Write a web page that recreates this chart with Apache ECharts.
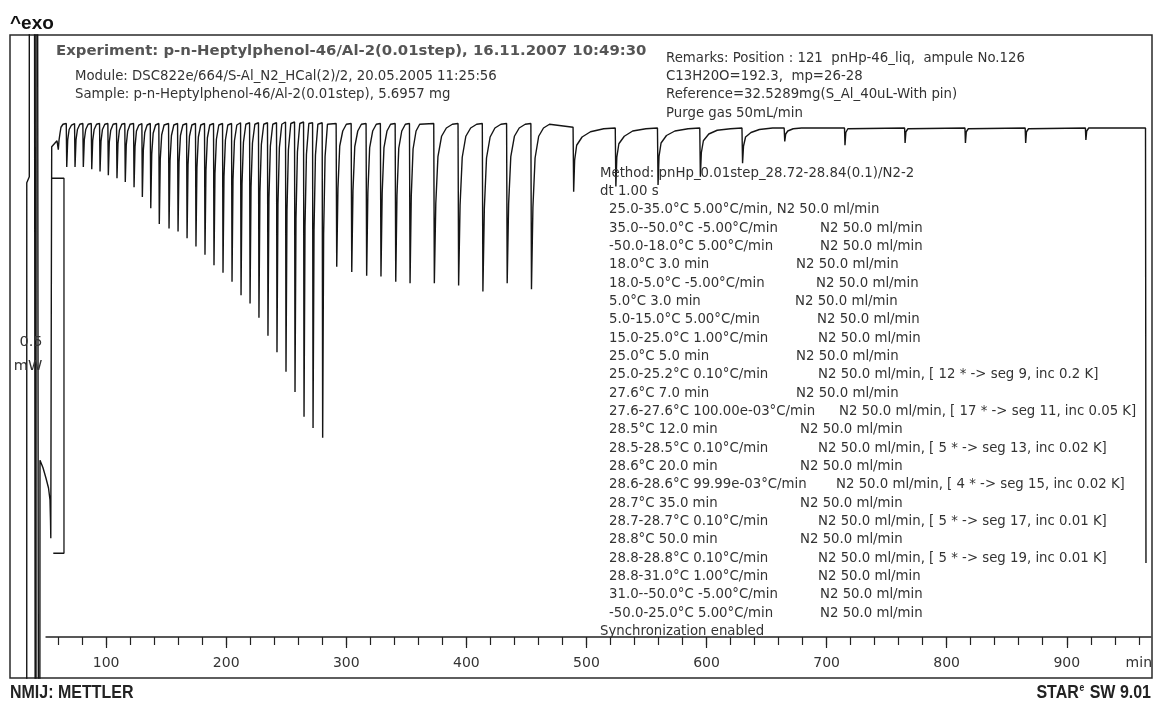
<!DOCTYPE html>
<html><head><meta charset="utf-8">
<script src="https://cdn.jsdelivr.net/npm/echarts@6.0.0/dist/echarts.min.js"></script>
<style>html,body{margin:0;padding:0;background:#fff}#chart{width:1155px;height:704px}</style>
</head><body><div id="chart"></div>
<script>
// ---------- DATA (time in min, heat flow in mW, relative) ----------
const initialTrace = [
  [33.9,-2.0],[33.95,-0.077],[36.05,-0.069],[36.1,2.0],
  [39.4,2.0],[41.6,-2.0],[41.8,2.0],[44.4,-2.0],
  [44.96,-0.447],[47.45,-0.457],[49.95,-0.471],[52.03,-0.484],[53.28,-0.500],[53.69,-0.527],[53.94,-0.551],
  [54.36,-0.233],[54.69,-0.029],[57.44,-0.024],[59.1,-0.021],[60.18,-0.033],[60.8,-0.020],[61.6,-0.011],[62.4,-0.003],[64.1,0.001]
];
const hold25Steps = [
  [66.8,0.002],[67.2,-0.056],[68.0,-0.020],[69.2,-0.006],[71.2,0.000],
  [73.7,0.002],[74.1,-0.056],[74.9,-0.020],[76.1,-0.006],[78.1,0.001],
  [80.6,0.002],[81.0,-0.056],[81.8,-0.020],[83.0,-0.006],[85.0,0.001],
  [87.6,0.002],[88.0,-0.059],[88.8,-0.021],[90.0,-0.006],[92.0,0.001],
  [94.5,0.002],[94.9,-0.062],[95.7,-0.022],[96.9,-0.006],[98.9,0.001],
  [101.4,0.002],[101.8,-0.067],[102.6,-0.023],[103.8,-0.007],[105.8,0.001],
  [108.6,0.002],[109.0,-0.071],[109.8,-0.025],[111.0,-0.007],[113.0,0.001],
  [115.5,0.002],[115.9,-0.076],[116.7,-0.027],[117.9,-0.008],[119.9,0.001],
  [122.8,0.002],[123.2,-0.083],[124.0,-0.029],[125.2,-0.008],[127.2,0.000],
  [129.7,0.002],[130.1,-0.096],[130.9,-0.034],[132.1,-0.010],[134.1,0.000],
  [136.7,0.002],[137.1,-0.111],[137.9,-0.039],[139.1,-0.011],[141.1,0.000],
  [143.8,0.002],[144.2,-0.132],[145.0,-0.046],[146.2,-0.013],[148.2,0.000]
];
const hold276Steps = [
  [151.9,0.002],[152.3,-0.138],[153.1,-0.048],[154.3,-0.014],[156.3,0.000],
  [159.4,0.002],[159.8,-0.142],[160.6,-0.050],[161.8,-0.014],[163.8,0.000],
  [166.9,0.002],[167.3,-0.151],[168.1,-0.053],[169.3,-0.015],[171.3,0.000],
  [174.3,0.002],[174.7,-0.162],[175.5,-0.057],[176.7,-0.016],[178.7,0.000],
  [181.8,0.002],[182.2,-0.173],[183.0,-0.061],[184.2,-0.017],[186.2,0.000],
  [189.3,0.002],[189.7,-0.187],[190.5,-0.065],[191.7,-0.019],[193.7,0.000],
  [196.8,0.002],[197.2,-0.197],[198.0,-0.069],[199.2,-0.020],[201.2,0.000],
  [204.3,0.002],[204.7,-0.209],[205.5,-0.073],[206.7,-0.021],[208.7,0.000],
  [211.8,0.003],[212.2,-0.227],[213.0,-0.079],[214.2,-0.023],[216.2,0.001],
  [219.3,0.003],[219.7,-0.238],[220.5,-0.083],[221.7,-0.024],[223.7,0.001],
  [226.7,0.003],[227.1,-0.257],[227.9,-0.090],[229.1,-0.026],[231.1,0.001],
  [234.2,0.003],[234.6,-0.281],[235.4,-0.098],[236.6,-0.028],[238.6,0.001],
  [241.7,0.003],[242.1,-0.303],[242.9,-0.106],[244.1,-0.030],[246.1,0.001],
  [249.2,0.004],[249.6,-0.329],[250.4,-0.115],[251.6,-0.033],[253.6,0.002],
  [256.7,0.004],[257.1,-0.356],[257.9,-0.125],[259.1,-0.036],[261.1,0.002],
  [264.2,0.004],[264.6,-0.389],[265.4,-0.136],[266.6,-0.039],[268.6,0.002],
  [271.7,0.003],[272.1,-0.404],[272.9,-0.141],[274.1,-0.040],[276.1,0.001],
  [279.7,0.003],[280.1,-0.417],[280.9,-0.146],[282.1,-0.042],[284.1,0.001]
];
const hold285Steps = [
  [291.3,0.002],[291.8,-0.189],[292.8,-0.085],[294.3,-0.028],[296.8,-0.008],[299.8,0.001],
  [303.8,0.002],[304.3,-0.196],[305.3,-0.088],[306.8,-0.029],[309.3,-0.008],[312.3,0.001],
  [316.2,0.002],[316.7,-0.201],[317.7,-0.090],[319.2,-0.030],[321.7,-0.008],[324.7,0.001],
  [328.1,0.002],[328.6,-0.202],[329.6,-0.091],[331.1,-0.030],[333.6,-0.008],[336.6,0.001],
  [340.4,0.002],[340.9,-0.209],[341.9,-0.094],[343.4,-0.031],[345.9,-0.008],[348.9,0.001],
  [352.3,0.002],[352.8,-0.211],[353.8,-0.095],[355.3,-0.032],[357.8,-0.008],[360.8,0.001]
];
const hold286Steps = [
  [372.5,0.002],[373.0,-0.211],[374.2,-0.105],[376.0,-0.042],[379.0,-0.015],[383.0,-0.004],[388.0,0.001],
  [392.7,0.002],[393.2,-0.214],[394.4,-0.107],[396.2,-0.043],[399.2,-0.015],[403.2,-0.004],[408.2,0.001],
  [412.9,0.002],[413.4,-0.222],[414.6,-0.111],[416.4,-0.044],[419.4,-0.016],[423.4,-0.004],[428.4,0.001],
  [433.1,0.002],[433.6,-0.211],[434.8,-0.105],[436.6,-0.042],[439.6,-0.015],[443.6,-0.004],[448.6,0.001],
  [453.3,0.002],[453.8,-0.219],[455.0,-0.110],[456.8,-0.044],[459.8,-0.015],[463.8,-0.004],[468.8,0.001]
];
const hold287Steps = [
  [488.4,-0.003],[488.9,-0.089],[489.7,-0.047],[491.4,-0.027],[495.9,-0.016],[502.9,-0.009],[513.9,-0.005],
  [523.5,-0.004],[524.0,-0.082],[524.8,-0.043],[526.5,-0.025],[531.0,-0.015],[538.0,-0.008],[549.0,-0.005],
  [558.6,-0.004],[559.1,-0.080],[559.9,-0.042],[561.6,-0.024],[566.1,-0.014],[573.1,-0.008],[584.1,-0.005],
  [593.8,-0.004],[594.3,-0.069],[595.1,-0.037],[596.8,-0.021],[601.3,-0.012],[608.3,-0.007],[619.3,-0.005],
  [628.9,-0.004],[629.4,-0.051],[630.2,-0.028],[631.9,-0.016],[636.4,-0.010],[643.4,-0.006],[654.4,-0.004],
  [664.0,-0.004],[664.5,-0.022],[665.3,-0.012],[667.0,-0.008],[671.5,-0.005],[678.5,-0.004],[689.5,-0.004]
];
const hold288Steps = [
  [714.2,-0.004],[714.6,-0.027],[715.3,-0.010],[717.0,-0.005],
  [764.2,-0.004],[764.6,-0.024],[765.3,-0.009],[767.0,-0.005],
  [814.4,-0.004],[814.8,-0.024],[815.5,-0.009],[817.2,-0.005],
  [864.5,-0.004],[864.9,-0.024],[865.6,-0.009],[867.3,-0.005],
  [914.6,-0.004],[915.0,-0.020],[915.7,-0.008],[917.4,-0.004]
];
const finalMelt = [[962.0,-0.004],[964.6,-0.004],[965.0,-0.584]];

const scaleBarTime = [54.9, 64.9, 64.9, 56.0];
const scaleBarMw = [-0.071, -0.071, -0.571, -0.571];
const scaleBarText = ['0.5', 'mW'];

const tickMinutes = [60,80,100,120,140,160,180,200,220,240,260,280,300,320,340,360,380,400,420,440,460,480,500,520,540,560,580,600,620,640,660,680,700,720,740,760,780,800,820,840,860,880,900,920,940,960];
const labelMinutes = [100,200,300,400,500,600,700,800,900];
const unitLabel = 'min';

const experimentTitle = 'Experiment: p-n-Heptylphenol-46/Al-2(0.01step), 16.11.2007 10:49:30';
const infoLines = ['Module: DSC822e/664/S-Al_N2_HCal(2)/2, 20.05.2005 11:25:56', 'Sample: p-n-Heptylphenol-46/Al-2(0.01step), 5.6957 mg'];
const remarkLines = ['Remarks: Position : 121  pnHp-46_liq,  ampule No.126', 'C13H20O=192.3,  mp=26-28', 'Reference=32.5289mg(S_Al_40uL-With pin)', 'Purge gas 50mL/min'];
const methodHead = ['Method: pnHp_0.01step_28.72-28.84(0.1)/N2-2', 'dt 1.00 s'];
const methodSteps = [
  '25.0-35.0°C 5.00°C/min, N2 50.0 ml/min',
  '35.0--50.0°C -5.00°C/min','-50.0-18.0°C 5.00°C/min','18.0°C 3.0 min','18.0-5.0°C -5.00°C/min',
  '5.0°C 3.0 min','5.0-15.0°C 5.00°C/min','15.0-25.0°C 1.00°C/min','25.0°C 5.0 min',
  '25.0-25.2°C 0.10°C/min','27.6°C 7.0 min','27.6-27.6°C 100.00e-03°C/min','28.5°C 12.0 min',
  '28.5-28.5°C 0.10°C/min','28.6°C 20.0 min','28.6-28.6°C 99.99e-03°C/min','28.7°C 35.0 min',
  '28.7-28.7°C 0.10°C/min','28.8°C 50.0 min','28.8-28.8°C 0.10°C/min','28.8-31.0°C 1.00°C/min',
  '31.0--50.0°C -5.00°C/min','-50.0-25.0°C 5.00°C/min'
];
const methodGas = [
  '',
  'N2 50.0 ml/min','N2 50.0 ml/min','N2 50.0 ml/min','N2 50.0 ml/min',
  'N2 50.0 ml/min','N2 50.0 ml/min','N2 50.0 ml/min','N2 50.0 ml/min',
  'N2 50.0 ml/min, [ 12 * -> seg 9, inc 0.2 K]','N2 50.0 ml/min','N2 50.0 ml/min, [ 17 * -> seg 11, inc 0.05 K]','N2 50.0 ml/min',
  'N2 50.0 ml/min, [ 5 * -> seg 13, inc 0.02 K]','N2 50.0 ml/min','N2 50.0 ml/min, [ 4 * -> seg 15, inc 0.02 K]','N2 50.0 ml/min',
  'N2 50.0 ml/min, [ 5 * -> seg 17, inc 0.01 K]','N2 50.0 ml/min','N2 50.0 ml/min, [ 5 * -> seg 19, inc 0.01 K]','N2 50.0 ml/min',
  'N2 50.0 ml/min','N2 50.0 ml/min'
];
const methodFoot = 'Synchronization enabled';
const footerLeft = 'NMIJ: METTLER';
const footerRight = ['STAR', 'e', ' SW 9.01'];
const exoLabel = '^exo';

// ---------- LAYOUT ----------
const gasColumnX = [0,820,820,796,816,795,817,818,796,818,796,839,800,818,800,836,800,818,800,818,818,820,820];
const FONT = '"DejaVu Sans", "Noto Sans", sans-serif';
const TXT = '#333';
const SMALL = '13.3px ' + FONT;
const FOOT = 'bold 18.6px "Liberation Sans", Arial, sans-serif';

function txt(x, y, s, font, fill, align) {
  return { type: 'text', x: x, y: y, z: 50, silent: true,
    style: { text: s, font: font, fill: fill || TXT, textAlign: align || 'left', textVerticalAlign: 'middle' } };
}

const trace = [].concat(initialTrace, hold25Steps, hold276Steps, hold285Steps, hold286Steps, hold287Steps, hold288Steps, finalMelt);
const scaleBar = scaleBarTime.map((t, i) => [t, scaleBarMw[i]]);

const graphics = [];
graphics.push(txt(10, 24, exoLabel, 'bold 19px "Liberation Sans", Arial, sans-serif', '#111'));
graphics.push(txt(56, 51.5, experimentTitle, 'bold 14.9px ' + FONT, '#555'));
infoLines.forEach((s, i) => graphics.push(txt(75, 76.7 + 18.33 * i, s, SMALL)));
remarkLines.forEach((s, i) => graphics.push(txt(666, 58.3 + 18.33 * i, s, SMALL)));
const mY0 = 173.3, mDy = 18.33;
methodHead.forEach((s, i) => graphics.push(txt(600, mY0 + mDy * i, s, SMALL)));
methodSteps.forEach((s, i) => {
  graphics.push(txt(609, mY0 + mDy * (i + 2), s, SMALL));
  if (methodGas[i]) graphics.push(txt(gasColumnX[i], mY0 + mDy * (i + 2), methodGas[i], SMALL));
});
graphics.push(txt(600, mY0 + mDy * 25, methodFoot, SMALL));
graphics.push(txt(31, 342, scaleBarText[0], '14.5px ' + FONT, '#333', 'center'));
graphics.push(txt(28, 366, scaleBarText[1], '14.5px ' + FONT, '#333', 'center'));
const footL = txt(10, 693, footerLeft, FOOT, '#222');
footL.scaleX = 0.86;
graphics.push(footL);
graphics.push({ type: 'text', x: 1151, y: 693, z: 50, silent: true, scaleX: 0.86,
  style: { text: '{a|' + footerRight[0] + '}{b|' + footerRight[1] + '}{a|' + footerRight[2] + '}',
    textAlign: 'right', textVerticalAlign: 'middle', fill: '#222',
    rich: { a: { font: FOOT, fill: '#222' },
            b: { font: 'bold 10px "Liberation Sans", Arial, sans-serif', fill: '#222', padding: [0, 1, 10, 1] } } } });

const chart = echarts.init(document.getElementById('chart'), null, { renderer: 'canvas' });
chart.setOption({
  animation: false,
  backgroundColor: '#fff',
  grid: [
    { left: 10, right: 3, top: 35, bottom: 26, show: true, borderColor: '#2a2a2a', borderWidth: 1.5, backgroundColor: 'transparent' },
    { left: 46.06, right: 3, top: 600, height: 37 }
  ],
  xAxis: [
    { gridIndex: 0, type: 'value', min: 20, max: 970, show: false },
    { gridIndex: 1, type: 'value', min: 50, max: 970, position: 'bottom',
      axisLine: { show: true, lineStyle: { color: '#222', width: 1.5 } },
      axisTick: { show: true, customValues: tickMinutes, length: 8, lineStyle: { color: '#222', width: 1.2 } },
      axisLabel: { show: false }, splitLine: { show: false } },
    { gridIndex: 1, type: 'value', min: 50, max: 970, position: 'bottom',
      axisLine: { show: false },
      axisTick: { show: true, customValues: labelMinutes, length: 11, lineStyle: { color: '#222', width: 1.2 } },
      axisLabel: { show: true, customValues: labelMinutes.concat([960]), margin: 19,
        formatter: v => (v === 960 ? unitLabel : String(v)),
        color: '#333', fontSize: 14, fontFamily: 'DejaVu Sans' },
      splitLine: { show: false } }
  ],
  yAxis: [
    { gridIndex: 0, type: 'value', min: -0.7373, max: 0.12, show: false },
    { gridIndex: 1, type: 'value', min: 0, max: 1, show: false }
  ],
  series: [
    { type: 'line', xAxisIndex: 0, yAxisIndex: 0, data: trace, showSymbol: false, symbol: 'none',
      lineStyle: { color: '#151515', width: 1.4 }, clip: true, silent: true, z: 3 },
    { type: 'line', xAxisIndex: 0, yAxisIndex: 0, data: scaleBar, showSymbol: false, symbol: 'none',
      lineStyle: { color: '#151515', width: 1.3 }, clip: true, silent: true, z: 3 }
  ],
  graphic: graphics
});
</script></body></html>
